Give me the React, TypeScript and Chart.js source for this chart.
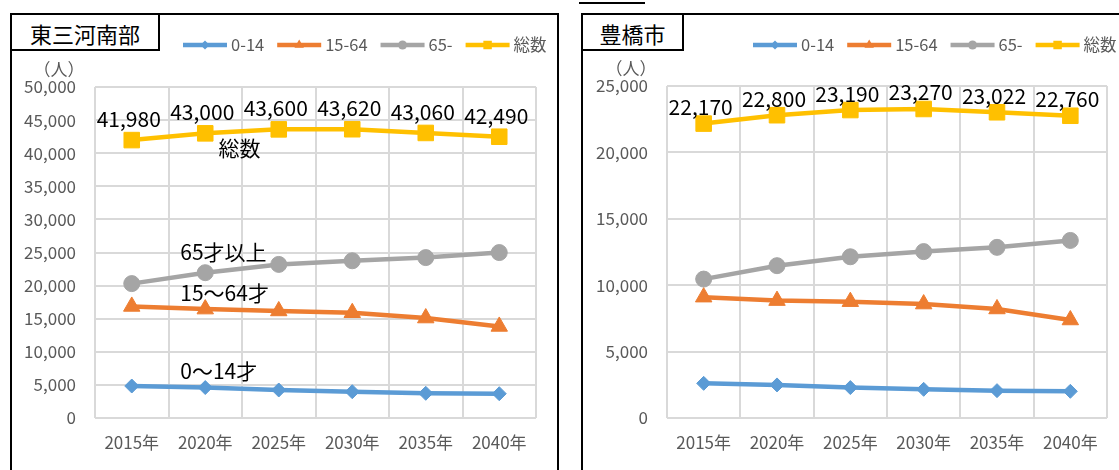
import React, { useEffect, useRef } from 'react';
import { Chart, registerables } from 'chart.js';

Chart.register(...registerables);

// ---------- data ----------
const years = ['2015年', '2020年', '2025年', '2030年', '2035年', '2040年'];
const seriesNames = ['0-14', '15-64', '65-', '総数'];

const southChild = [4830, 4600, 4230, 3970, 3730, 3670];
const southWorking = [16850, 16450, 16170, 15900, 15100, 13830];
const southElderly = [20300, 21950, 23200, 23750, 24230, 24990];
const southTotal = [41980, 43000, 43600, 43620, 43060, 42490];

const toyoChild = [2610, 2490, 2290, 2160, 2060, 2010];
const toyoWorking = [9100, 8840, 8760, 8580, 8210, 7380];
const toyoElderly = [10460, 11470, 12140, 12530, 12850, 13370];
const toyoTotal = [22170, 22800, 23190, 23270, 23022, 22760];

const southAxisMax = 50000;
const toyoAxisMax = 25000;
const axisStep = 5000;

const southTitle = '東三河南部';
const toyoTitle = '豊橋市';
const unitLabel = '（人）';

// notes placed in data units (category index, value)
const southNotes = [
  { text: '総数', x: 1.18, y: 40800 },
  { text: '65才以上', x: 0.66, y: 25100 },
  { text: '15～64才', x: 0.66, y: 18900 },
  { text: '0～14才', x: 0.66, y: 7100 },
];

// ---------- styles ----------
const FONT = '"Noto Sans CJK JP", "Noto Sans", sans-serif';
const colors = ['#5B9BD5', '#ED7D31', '#A5A5A5', '#FFC000'];
const pointStyles = ['rectRot', 'triangle', 'circle', 'rect'];
const pointRadii = [7, 9.5, 8, 11];
const legendRadii = [4.5, 5.5, 4.5, 6];

function drawMarker(ctx: CanvasRenderingContext2D, style: string, cx: number, cy: number, r: number, color: string) {
  ctx.save();
  ctx.fillStyle = color;
  ctx.beginPath();
  if (style === 'rectRot') {
    ctx.moveTo(cx - r, cy);
    ctx.lineTo(cx, cy - r);
    ctx.lineTo(cx + r, cy);
    ctx.lineTo(cx, cy + r);
  } else if (style === 'triangle') {
    for (let k = 0; k < 3; k++) {
      const a = (k * 2 * Math.PI) / 3;
      const px = cx + Math.sin(a) * r;
      const py = cy - Math.cos(a) * r;
      if (k === 0) ctx.moveTo(px, py);
      else ctx.lineTo(px, py);
    }
  } else if (style === 'circle') {
    ctx.arc(cx, cy, r, 0, Math.PI * 2);
  } else {
    const h = r * Math.SQRT1_2;
    ctx.rect(cx - h, cy - h, 2 * h, 2 * h);
  }
  ctx.closePath();
  ctx.fill();
  ctx.restore();
}

function makeOverlay(notes: { text: string; x: number; y: number }[], labelOffset: number, legendStart: number) {
  return {
    id: 'overlay',
    afterDatasetsDraw(chart: any) {
      const ctx: CanvasRenderingContext2D = chart.ctx;
      const { left, top } = chart.chartArea;
      ctx.save();
      // data labels for total
      const meta = chart.getDatasetMeta(3);
      const vals = chart.data.datasets[3].data as number[];
      ctx.font = `21px ${FONT}`;
      ctx.fillStyle = '#000000';
      ctx.textAlign = 'center';
      ctx.textBaseline = 'middle';
      meta.data.forEach((pt: any, i: number) => {
        ctx.fillText(vals[i].toLocaleString('en-US'), pt.x - 3, pt.y - labelOffset);
      });
      // notes
      ctx.font = `21px ${FONT}`;
      ctx.textAlign = 'left';
      notes.forEach((n) => {
        ctx.fillText(n.text, chart.scales.x.getPixelForValue(n.x), chart.scales.y.getPixelForValue(n.y));
      });
      // unit
      ctx.font = `17px ${FONT}`;
      ctx.fillStyle = '#595959';
      ctx.textAlign = 'center';
      ctx.fillText(unitLabel, left - 36, top - 17);
      // legend
      let x = left + legendStart;
      const y = 30;
      ctx.font = `16.5px ${FONT}`;
      ctx.textAlign = 'left';
      chart.data.datasets.forEach((ds: any, i: number) => {
        ctx.strokeStyle = colors[i];
        ctx.lineWidth = 4.5;
        ctx.lineCap = 'butt';
        ctx.beginPath();
        ctx.moveTo(x, y);
        ctx.lineTo(x + 44, y);
        ctx.stroke();
        drawMarker(ctx, pointStyles[i], x + 22, y, legendRadii[i], colors[i]);
        ctx.fillStyle = '#595959';
        ctx.fillText(ds.label, x + 48, y);
        x += 48 + ctx.measureText(ds.label).width + 13;
      });
      ctx.restore();
    },
  };
}

type PanelProps = {
  left: number;
  top: number;
  width: number;
  height: number;
  series: number[][];
  max: number;
  yWidth: number;
  padRight: number;
  padTop: number;
  xHeight: number;
  notes: { text: string; x: number; y: number }[];
  labelOffset: number;
  legendStart: number;
};

function Panel(p: PanelProps) {
  const ref = useRef<HTMLCanvasElement>(null);
  useEffect(() => {
    if (!ref.current) return;
    const chart = new Chart(ref.current, {
      type: 'line',
      data: {
        labels: years,
        datasets: p.series.map((d, i) => ({
          label: seriesNames[i],
          data: d,
          borderColor: colors[i],
          backgroundColor: colors[i],
          borderWidth: 4.5,
          pointStyle: pointStyles[i] as any,
          pointRadius: pointRadii[i],
          pointBackgroundColor: colors[i],
          pointBorderColor: colors[i],
          pointBorderWidth: 1,
          tension: 0,
          fill: false,
        })),
      },
      options: {
        animation: false,
        responsive: false,
        maintainAspectRatio: false,
        events: [],
        layout: { padding: { top: p.padTop, right: p.padRight, left: 0, bottom: 0 } },
        plugins: {
          legend: { display: false },
          title: { display: false },
          tooltip: { enabled: false },
        },
        scales: {
          x: {
            type: 'category',
            offset: true,
            grid: { offset: true, color: '#D9D9D9', lineWidth: 2, drawTicks: false },
            border: { display: false },
            ticks: { color: '#595959', font: { family: FONT, size: 17 }, padding: 14, maxRotation: 0, autoSkip: false },
            afterFit: (s: any) => {
              s.height = p.xHeight;
            },
          },
          y: {
            min: 0,
            max: p.max,
            grid: { color: '#D9D9D9', lineWidth: 2, drawTicks: false },
            border: { display: false },
            ticks: {
              stepSize: axisStep,
              color: '#595959',
              font: { family: FONT, size: 17 },
              padding: 19,
              callback: (v: any) => Number(v).toLocaleString('en-US'),
            },
            afterFit: (s: any) => {
              s.width = p.yWidth;
            },
          },
        },
      },
      plugins: [makeOverlay(p.notes, p.labelOffset, p.legendStart)],
    });
    return () => chart.destroy();
  }, []);
  return (
    <canvas
      ref={ref}
      width={p.width}
      height={p.height}
      style={{ position: 'absolute', left: p.left, top: p.top, width: p.width, height: p.height }}
    />
  );
}

const frameStyle = (left: number, width: number): React.CSSProperties => ({
  position: 'absolute',
  left,
  top: 13,
  width,
  height: 500,
  border: '2px solid #000',
  boxSizing: 'border-box',
});

const titleStyle = (left: number, width: number): React.CSSProperties => ({
  position: 'absolute',
  left,
  top: 13,
  width,
  height: 38,
  border: '2px solid #000',
  boxSizing: 'border-box',
  background: '#fff',
  display: 'flex',
  alignItems: 'center',
  justifyContent: 'center',
  fontFamily: FONT,
  fontSize: 22,
  color: '#000',
  paddingTop: 2,
});

export default function App() {
  return (
    <div
      style={{
        position: 'absolute',
        left: 0,
        top: 0,
        width: 1119,
        height: 470,
        overflow: 'hidden',
        background: '#fff',
      }}
    >
      <div style={{ position: 'absolute', left: 579, top: 2, width: 66, height: 2, background: '#000' }} />
      <div style={frameStyle(10, 549)} />
      <div style={frameStyle(581, 600)} />
      <Panel
        left={12}
        top={15}
        width={545}
        height={455}
        series={[southChild, southWorking, southElderly, southTotal]}
        max={southAxisMax}
        yWidth={83}
        padRight={21}
        padTop={72}
        xHeight={52}
        notes={southNotes}
        labelOffset={21}
        legendStart={88}
      />
      <Panel
        left={583}
        top={15}
        width={536}
        height={455}
        series={[toyoChild, toyoWorking, toyoElderly, toyoTotal]}
        max={toyoAxisMax}
        yWidth={84}
        padRight={12}
        padTop={71}
        xHeight={52}
        notes={[]}
        labelOffset={16.5}
        legendStart={86}
      />
      <div style={titleStyle(10, 150)}>{southTitle}</div>
      <div style={titleStyle(581, 103)}>{toyoTitle}</div>
    </div>
  );
}
